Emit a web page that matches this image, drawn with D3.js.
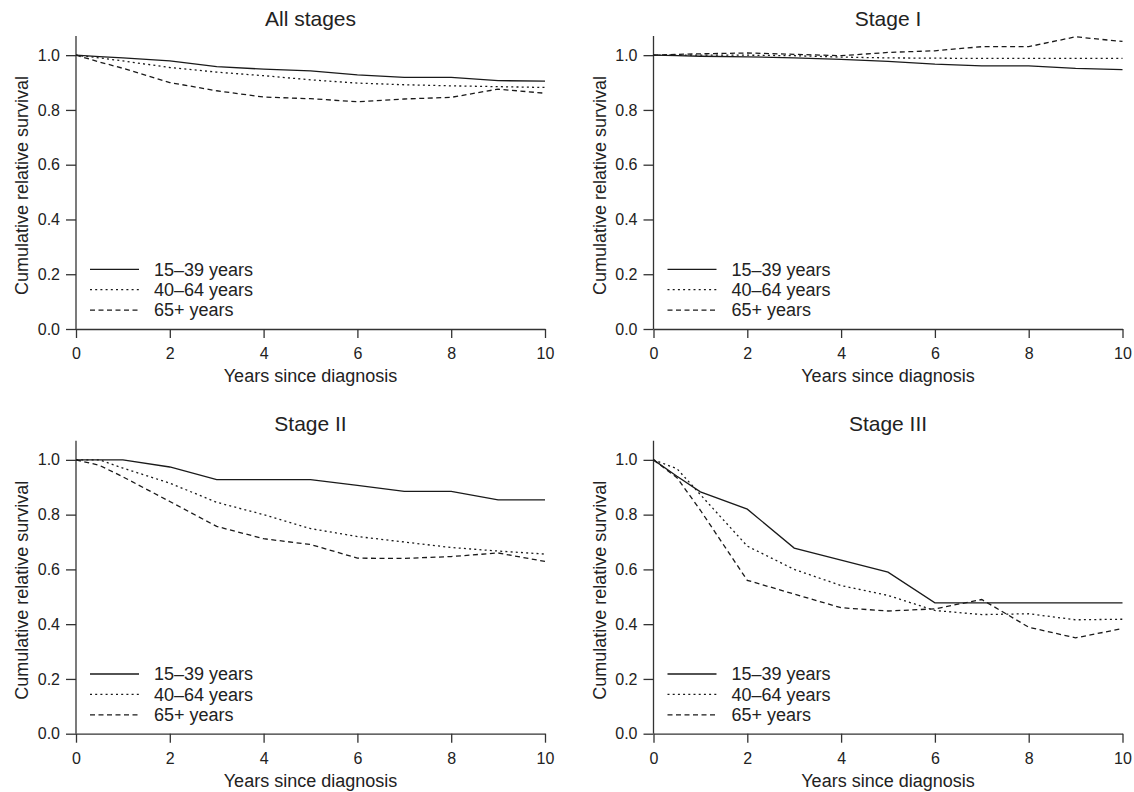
<!DOCTYPE html>
<html>
<head>
<meta charset="utf-8">
<script src="https://cdn.jsdelivr.net/npm/d3@7"></script>
<style>
  html, body { margin: 0; padding: 0; background: #fff; }
  svg { display: block; font-family: "Liberation Sans", Arial, Helvetica, sans-serif; }
</style>
</head>
<body>
<svg id="chart" width="1134" height="792"></svg>
<script>
// ---------- data ----------
const years = [0, 0.5, 1, 2, 3, 4, 5, 6, 7, 8, 9, 10];
const panelTitles = ["All stages", "Stage I", "Stage II", "Stage III"];
const ageGroups = ["15\u201339 years", "40\u201364 years", "65+ years"];
const xTicks = [0, 2, 4, 6, 8, 10];
const yTicks = [0, 0.2, 0.4, 0.6, 0.8, 1.0];
const xLabel = "Years since diagnosis";
const yLabel = "Cumulative relative survival";

const allStages15_39 = [1.0, 0.995, 0.99, 0.979, 0.958, 0.949, 0.943, 0.928, 0.919, 0.919, 0.907, 0.905];
const allStages40_64 = [1.0, 0.99, 0.979, 0.955, 0.938, 0.925, 0.91, 0.898, 0.892, 0.888, 0.885, 0.882];
const allStages65 = [1.0, 0.975, 0.952, 0.90, 0.87, 0.847, 0.841, 0.83, 0.84, 0.846, 0.876, 0.861];

const stageI15_39 = [1.0, 0.998, 0.996, 0.994, 0.99, 0.985, 0.977, 0.967, 0.961, 0.961, 0.952, 0.947];
const stageI40_64 = [1.0, 1.0, 1.0, 1.0, 0.998, 0.993, 0.99, 0.989, 0.988, 0.988, 0.988, 0.988];
const stageI65 = [1.0, 1.003, 1.005, 1.008, 1.003, 0.998, 1.01, 1.016, 1.031, 1.031, 1.067, 1.05];

const stageII15_39 = [1.0, 1.0, 1.0, 0.974, 0.928, 0.928, 0.928, 0.907, 0.885, 0.885, 0.854, 0.854];
const stageII40_64 = [1.0, 1.0, 0.97, 0.915, 0.845, 0.80, 0.749, 0.72, 0.70, 0.68, 0.667, 0.656];
const stageII65 = [1.0, 0.98, 0.938, 0.848, 0.757, 0.712, 0.691, 0.641, 0.64, 0.647, 0.66, 0.629];

const stageIII15_39 = [1.0, 0.94, 0.883, 0.82, 0.678, 0.634, 0.59, 0.478, 0.478, 0.478, 0.478, 0.478];
const stageIII40_64 = [1.0, 0.968, 0.873, 0.685, 0.60, 0.541, 0.505, 0.45, 0.435, 0.438, 0.416, 0.418];
const stageIII65 = [1.0, 0.935, 0.816, 0.56, 0.51, 0.46, 0.448, 0.456, 0.49, 0.389, 0.35, 0.384];

const panelSeries = [
  [allStages15_39, allStages40_64, allStages65],
  [stageI15_39, stageI40_64, stageI65],
  [stageII15_39, stageII40_64, stageII65],
  [stageIII15_39, stageIII40_64, stageIII65]
];

// ---------- layout ----------
const svg = d3.select("#chart");
const colLeft = [76, 653.5];
const rowBottom = [329, 733.7];
const plotW = 469, plotH = 293;
const dashes = [null, "2,3.2", "5,3.5"];
const ink = "#1a1a1a";
const axisInk = "#333";

panelTitles.forEach((title, i) => {
  const left = colLeft[i % 2];
  const bottom = rowBottom[Math.floor(i / 2)];
  const top = bottom - plotH;
  const x = d3.scaleLinear().domain([0, 10]).range([left, left + plotW]);
  const y = d3.scaleLinear().domain([0, 1.07]).range([bottom, top]);

  const g = svg.append("g");

  // x axis
  const xa = g.append("g").attr("transform", `translate(0,${bottom})`)
    .call(d3.axisBottom(x).tickValues(xTicks).tickFormat(d3.format("d")).tickSize(9).tickPadding(10).tickSizeOuter(0));
  // y axis
  const ya = g.append("g").attr("transform", `translate(${left},0)`)
    .call(d3.axisLeft(y).tickValues(yTicks).tickFormat(d3.format(".1f")).tickSize(10).tickPadding(6).tickSizeOuter(0));
  [xa, ya].forEach(a => {
    a.select(".domain").attr("stroke", axisInk).attr("stroke-width", 1.3);
    a.selectAll(".tick line").attr("stroke", axisInk).attr("stroke-width", 1.3);
    a.selectAll(".tick text").attr("fill", "#222").style("font-size", "16px")
      .style("font-family", "'Liberation Sans', Arial, sans-serif");
  });
  // full-height y axis line (to top of plot region)
  ya.select(".domain").attr("d", `M0,${bottom}V${top}`);

  // title
  g.append("text").attr("x", left + plotW / 2).attr("y", top - 10)
    .attr("text-anchor", "middle").attr("fill", "#222")
    .style("font-size", "21px").text(title);
  // x label
  g.append("text").attr("x", left + plotW / 2).attr("y", bottom + 53)
    .attr("text-anchor", "middle").attr("fill", "#222")
    .style("font-size", "18px").text(xLabel);
  // y label
  g.append("text")
    .attr("transform", `translate(${left - 48},${(top + bottom) / 2 + 3}) rotate(-90)`)
    .attr("text-anchor", "middle").attr("fill", "#222")
    .style("font-size", "18px").text(yLabel);

  // lines
  const line = d3.line().x((d, k) => x(years[k])).y(d => y(d));
  panelSeries[i].forEach((vals, s) => {
    g.append("path").datum(vals).attr("d", line)
      .attr("fill", "none").attr("stroke", ink).attr("stroke-width", 1.3)
      .attr("stroke-dasharray", dashes[s]);
  });

  // legend
  ageGroups.forEach((lab, s) => {
    const ly = bottom - 59.7 + s * 20.4;
    g.append("line").attr("x1", left + 14).attr("x2", left + 63)
      .attr("y1", ly).attr("y2", ly)
      .attr("stroke", ink).attr("stroke-width", 1.3).attr("stroke-dasharray", dashes[s]);
    g.append("text").attr("x", left + 78).attr("y", ly).attr("dy", "0.35em")
      .attr("fill", "#222").style("font-size", "18px").text(lab);
  });
});
</script>
</body>
</html>
